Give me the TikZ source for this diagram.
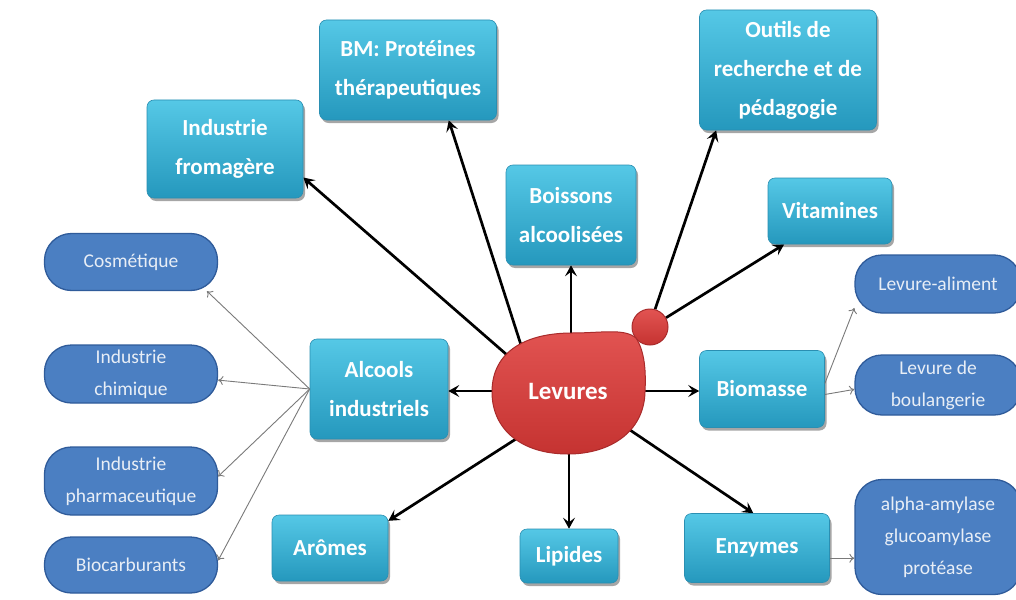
\documentclass[tikz,border=0pt]{standalone}
\usepackage{fontspec}
\setmainfont{Carlito}
\usetikzlibrary{arrows.meta,shapes.geometric,shadows,backgrounds,calc}
\definecolor{cyantop}{HTML}{55C8E6}
\definecolor{cyanbot}{HTML}{2598BD}
\definecolor{cyanedge}{HTML}{2A8FB2}
\definecolor{pillfill}{HTML}{4B7FC2}
\definecolor{pilledge}{HTML}{2F5B9A}
\definecolor{pilltext}{HTML}{E8EEF6}
\definecolor{levtop}{HTML}{E25452}
\definecolor{levbot}{HTML}{C53331}
\definecolor{levedge}{HTML}{A92B2B}
\definecolor{thingray}{HTML}{7A7A7A}
\begin{document}
\begin{tikzpicture}[x=1pt,y=-1pt,
  cbox/.style={draw=cyanedge, line width=0.6pt, rounded corners=7pt,
    top color=cyantop, bottom color=cyanbot, text=white, align=center,
    font=\bfseries\fontsize{23}{39}\selectfont, inner sep=0pt,
    drop shadow={shadow xshift=2pt, shadow yshift=-3pt, opacity=0.35, fill=black}},
  pill/.style={draw=pilledge, line width=1.3pt, rounded corners=27pt,
    fill=pillfill, text=pilltext, align=center,
    font=\fontsize{19.5}{32}\selectfont, inner sep=0pt},
  bigarrow/.style={line width=2.7pt, -{Stealth[length=11pt,width=12pt,inset=4.5pt]}},
  thinarrow/.style={draw=thingray, line width=0.9pt, -{To[length=5pt,width=9pt]}}
]
\begin{scope}[on background layer]
\fill[white] (0,0) rectangle (1016,599);
\end{scope}
\useasboundingbox (0,0) rectangle (1016,599);

% cyan boxes
\node[cbox, minimum width=156, minimum height=98] (from) at (225,149) {Industrie\\fromagère};
\node[cbox, minimum width=177, minimum height=100] (bm) at (408,70) {BM: Protéines\\thérapeutiques};
\node[cbox, minimum width=177, minimum height=120] (outils) at (788,70) {Outils de\\recherche et de\\pédagogie};
\node[cbox, minimum width=130, minimum height=100] (boi) at (571,215) {Boissons\\alcoolisées};
\node[cbox, minimum width=124, minimum height=66] (vit) at (830,211) {Vitamines};
\node[cbox, minimum width=138, minimum height=100] (alc) at (379,389) {Alcools\\industriels};
\node[cbox, minimum width=125, minimum height=77] (bms) at (762,389) {Biomasse};
\node[cbox, minimum width=116, minimum height=66] (aro) at (330,548) {Arômes};
\node[cbox, minimum width=98, minimum height=54] (lip) at (569,556) {Lipides};
\node[cbox, minimum width=145, minimum height=69] (enz) at (757,548) {Enzymes};

% blue pills
\node[pill, minimum width=173, minimum height=57] (cosm) at (131,262) {Cosmétique};
\node[pill, minimum width=173, minimum height=58] (chim) at (131,374) {Industrie\\chimique};
\node[pill, minimum width=173, minimum height=68] (pharma) at (131,481) {Industrie\\pharmaceutique};
\node[pill, minimum width=173, minimum height=56] (biocarb) at (131,565) {Biocarburants};
\node[pill, minimum width=166, minimum height=58] (alim) at (938,284) {Levure-aliment};
\node[pill, minimum width=166, minimum height=60] (boul) at (938,385) {Levure de\\boulangerie};
\node[pill, minimum width=166, minimum height=115] (enzl) at (938,537) {alpha-amylase\\glucoamylase\\protéase};

% Levures blob
\node[circle, draw=levedge, line width=1pt, top color=levtop, bottom color=levbot, minimum size=36, inner sep=0pt] (bud) at (650,327) {};
\draw[levedge, line width=1pt, top color=levtop, bottom color=levbot]
  (492,392) .. controls (492,350) and (528,333) .. (572,333)
  .. controls (602,333) and (624,328) .. (636,338)
  .. controls (645,352) and (646,372) .. (645,392)
  .. controls (644,432) and (610,454) .. (568,454)
  .. controls (522,454) and (492,430) .. cycle;
\node[ellipse, minimum width=146, minimum height=110, inner sep=0pt, text=white,
  font=\bfseries\fontsize{25}{30}\selectfont] (lev) at (568,391) {Levures};

\begin{scope}[on background layer]
\draw[bigarrow] (lev.150) -- (from.-20);
\draw[bigarrow] (lev.137) -- (bm.-51);
\draw[bigarrow] (boi.south |- lev.north) -- (boi.south);
\draw[bigarrow] (bud.74) -- (outils.-140);
\draw[bigarrow] (bud.30) -- (vit.-144);
\draw[bigarrow] (lev.west) -- (lev.west -| alc.east);
\draw[bigarrow] (lev.east) -- (lev.east -| bms.west);
\draw[bigarrow] (lev.-32) -- (enz.96);
\draw[bigarrow] (lip.north |- lev.south) -- (lip.north);
\draw[bigarrow] (lev.-136) -- (aro.25);
\end{scope}

\draw[thinarrow] (alc.west) -- (cosm.-21);
\draw[thinarrow] (alc.west) -- (chim.-4);
\draw[thinarrow] (alc.west) -- (pharma.3);
\draw[thinarrow] (alc.west) -- (biocarb.3);
\draw[thinarrow] (bms.5) -- (alim.-164);
\draw[thinarrow] (bms.-5) -- (boul.183);
\draw[thinarrow] (enz.-8) -- (enz.-8 -| enzl.west);
\end{tikzpicture}
\end{document}
